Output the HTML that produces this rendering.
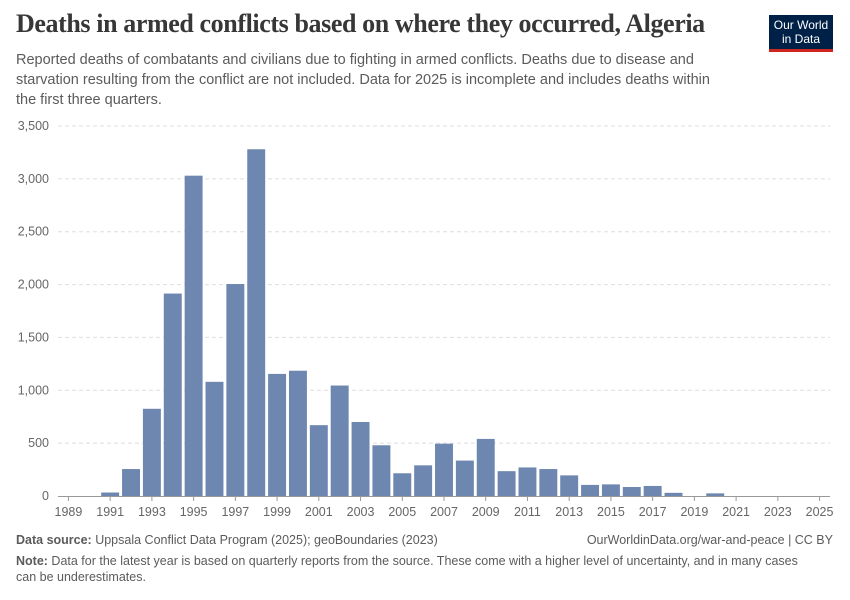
<!DOCTYPE html>
<html><head><meta charset="utf-8"><style>
body{margin:0;background:#fff;font-family:"Liberation Sans",sans-serif;}
#wrap{position:relative;width:850px;height:600px;overflow:hidden;}
.t{position:absolute;margin:0;}
</style></head><body>
<div id="wrap">
<h1 class="t" style="left:16px;top:9px;font-family:'Liberation Serif',serif;font-size:26px;font-weight:bold;color:#373737;letter-spacing:-0.4px;">Deaths in armed conflicts based on where they occurred, Algeria</h1>
<p class="t" style="left:16px;top:50px;width:712px;font-size:14.5px;line-height:20px;color:#5b5b5b;">Reported deaths of combatants and civilians due to fighting in armed conflicts. Deaths due to disease and starvation resulting from the conflict are not included. Data for 2025 is incomplete and includes deaths within the first three quarters.</p>
<div style="position:absolute;left:769px;top:15px;width:64px;height:37px;background:#002147;border-bottom:3px solid #ce261e;color:#fff;font-size:12px;line-height:14px;text-align:center;padding-top:3px;box-sizing:border-box;">Our World<br>in Data</div>
<svg id="chart" width="850" height="600" style="position:absolute;left:0;top:0;"></svg>
<p class="t" style="left:16px;top:533px;font-size:12.5px;color:#5b5b5b;"><b>Data source:</b> Uppsala Conflict Data Program (2025); geoBoundaries (2023)</p>
<p class="t" style="right:17px;top:533px;font-size:12.5px;color:#5b5b5b;">OurWorldinData.org/war-and-peace | CC BY</p>
<p class="t" style="left:16px;top:553px;width:800px;font-size:12.5px;line-height:16px;color:#5b5b5b;"><b>Note:</b> Data for the latest year is based on quarterly reports from the source. These come with a higher level of uncertainty, and in many cases can be underestimates.</p>
</div>
<script>
const years=[1989,1990,1991,1992,1993,1994,1995,1996,1997,1998,1999,2000,2001,2002,2003,2004,2005,2006,2007,2008,2009,2010,2011,2012,2013,2014,2015,2016,2017,2018,2019,2020,2021,2022,2023,2024,2025];
const deaths=[0,0,33,255,825,1915,3030,1080,2005,3280,1155,1185,670,1045,700,480,215,290,495,335,540,235,270,255,195,105,110,85,95,30,0,25,0,0,0,0,0];
const yTicks=[0,500,1000,1500,2000,2500,3000,3500];
const yTickLabels=["0","500","1,000","1,500","2,000","2,500","3,000","3,500"];
const xTickYears=[1989,1991,1993,1995,1997,1999,2001,2003,2005,2007,2009,2011,2013,2015,2017,2019,2021,2023,2025];
const NS="http://www.w3.org/2000/svg";
const svg=document.getElementById('chart');
const y0=496,yTop=126,yMax=3500,xL=58,xR=830;
const step=(xR-xL)/years.length;
function y(v){return y0-(v/yMax)*(y0-yTop);}
function xc(yr){return xL+step*(yr-years[0])+step/2;}
function mk(t,a,txt){const e=document.createElementNS(NS,t);for(const k in a)e.setAttribute(k,a[k]);if(txt!==undefined)e.textContent=txt;svg.appendChild(e);return e;}
yTicks.forEach((v,i)=>{
  if(v>0){const g=mk('line',{x1:xL,x2:xR,y1:y(v),y2:y(v),stroke:'#ddd','stroke-dasharray':'4,3'});
  
  }
  const t=mk('text',{x:49,y:y(v)+4,'text-anchor':'end','font-size':12.5,fill:'#666','font-family':'Liberation Sans'},yTickLabels[i]);
  
  
});
years.forEach((yr,i)=>{
  const v=deaths[i]; if(v<=0)return;
  const b=mk('rect',{x:xc(yr)-step*0.43,y:y(v),width:step*0.86,height:y0-y(v),fill:'#6d87b0'});
  
  
});
const ax=mk('line',{x1:xL,x2:xR,y1:y0+0.5,y2:y0+0.5,stroke:'#999'});


xTickYears.forEach(yr=>{
  const tk=mk('line',{x1:xc(yr),x2:xc(yr),y1:y0,y2:y0+5,stroke:'#999'});
  
  
  const t=mk('text',{x:xc(yr),y:y0+20,'text-anchor':'middle','font-size':12.5,fill:'#666','font-family':'Liberation Sans'},yr);
  
  
});
</script>
</body></html>
